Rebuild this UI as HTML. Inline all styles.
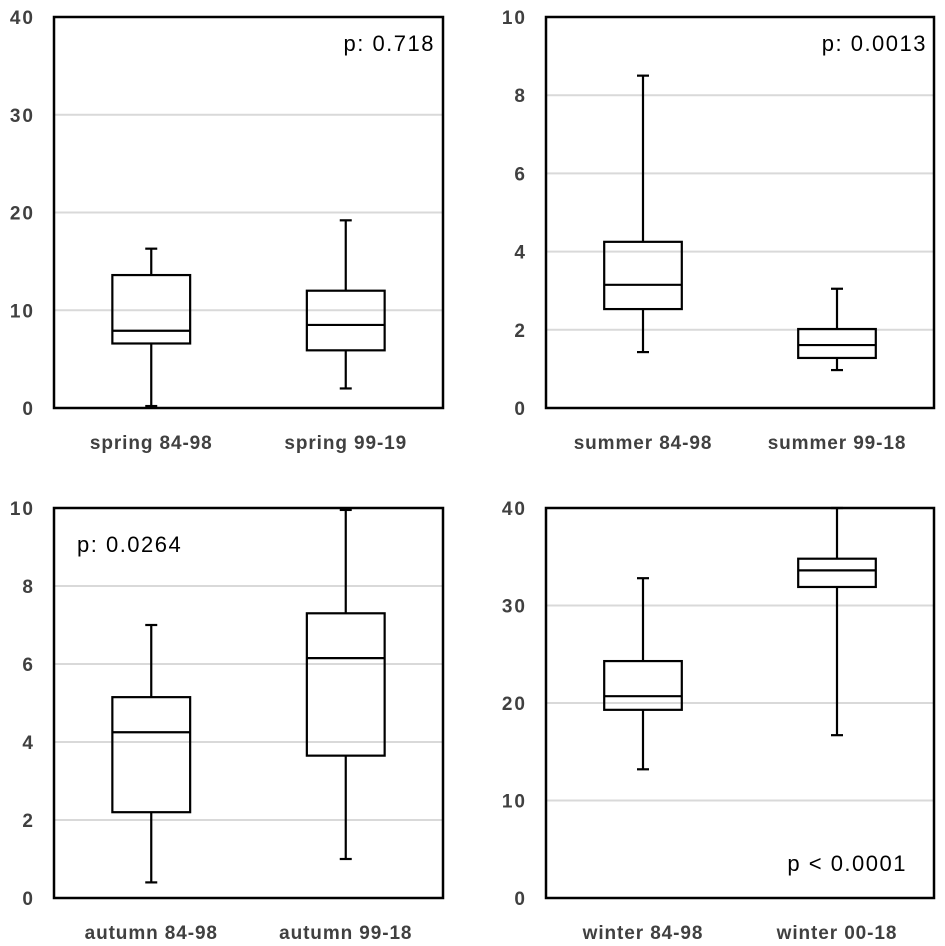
<!DOCTYPE html>
<html><head><meta charset="utf-8"><style>
body{margin:0;background:#fff;}
svg{display:block;font-family:"Liberation Sans",Arial,sans-serif;}
.tick{font-size:19px;font-weight:bold;fill:#404040;text-anchor:end;letter-spacing:2px;}
.cat{font-size:19px;font-weight:bold;fill:#404040;text-anchor:middle;letter-spacing:0.9px;}
.pv{font-size:22px;fill:#000;letter-spacing:1.5px;}
</style></head><body>
<svg id="chart" width="945" height="946"></svg>
<script>
const categories = [["spring 84-98","spring 99-19"],["summer 84-98","summer 99-18"],["autumn 84-98","autumn 99-18"],["winter 84-98","winter 00-18"]];
const yMax = [40,10,10,40];
const tickStep = [10,2,2,10];
const pLabels = ["p: 0.718","p: 0.0013","p: 0.0264","p < 0.0001"];
// [min, q1, median, q3, max]
const springStats = [[0.2,6.6,7.9,13.6,16.3],[2.0,5.9,8.5,12.0,19.2]];
const summerStats = [[1.43,2.53,3.15,4.25,8.5],[0.97,1.28,1.61,2.02,3.05]];
const autumnStats = [[0.4,2.2,4.25,5.15,7.0],[1.0,3.65,6.15,7.3,9.95]];
const winterStats = [[13.2,19.3,20.7,24.3,32.8],[16.7,31.9,33.6,34.8,40.0]];
const allStats = [springStats,summerStats,autumnStats,winterStats];
const panelNames = ["spring","summer","autumn","winter"];

const NS="http://www.w3.org/2000/svg";
const svg=document.getElementById('chart');
function mk(tag,attrs,parent){const e=document.createElementNS(NS,tag);for(const k in attrs)e.setAttribute(k,attrs[k]);(parent||svg).appendChild(e);return e;}
const panels=[{l:54,t:17,r:443,b:408},{l:546,t:17,r:934,b:408},{l:54,t:508,r:443,b:898},{l:546,t:508,r:934,b:898}];
const pPos=[{x:435,y:51,a:"end"},{x:927,y:51,a:"end"},{x:77,y:552,a:"start"},{x:907,y:871,a:"end"}];
panels.forEach((p,i)=>{
  const g=mk('g',{});
  
  
  const y=v=>p.b-(v/yMax[i])*(p.b-p.t);
  const w=p.r-p.l;
  const x=j=>p.l+w*(j*2+1)/4;
  for(let v=0;v<=yMax[i];v+=tickStep[i]){
    if(v>0&&v<yMax[i]){const gl=mk('line',{x1:p.l,x2:p.r,y1:y(v),y2:y(v),stroke:'#d9d9d9','stroke-width':2},g);
      
      }
    const t=mk('text',{x:p.l-19,y:y(v)+7,class:'tick'},g);t.textContent=v;
    
    
  }
  const fr=mk('rect',{x:p.l,y:p.t,width:w,height:p.b-p.t,fill:'none',stroke:'#000','stroke-width':2.5},g);
  
  
  allStats[i].forEach((s,j)=>{
    const cx=x(j),bw=w*0.2,cw=12;
    const bg=mk('g',{stroke:'#000','stroke-width':2.2,fill:'none'},g);
    
    
    mk('line',{x1:cx,x2:cx,y1:y(s[0]),y2:y(s[1])},bg);
    mk('line',{x1:cx,x2:cx,y1:y(s[3]),y2:y(s[4])},bg);
    mk('line',{x1:cx-cw/2,x2:cx+cw/2,y1:y(s[0]),y2:y(s[0])},bg);
    mk('line',{x1:cx-cw/2,x2:cx+cw/2,y1:y(s[4]),y2:y(s[4])},bg);
    mk('rect',{x:cx-bw/2,y:y(s[3]),width:bw,height:y(s[1])-y(s[3])},bg);
    mk('line',{x1:cx-bw/2,x2:cx+bw/2,y1:y(s[2]),y2:y(s[2])},bg);
    const ct=mk('text',{x:cx,y:p.b+41,class:'cat'},g);ct.textContent=categories[i][j];
    
    
  });
  const pt=mk('text',{x:pPos[i].x,y:pPos[i].y,class:'pv','text-anchor':pPos[i].a},g);pt.textContent=pLabels[i];
  
  
});
</script>
</body></html>
